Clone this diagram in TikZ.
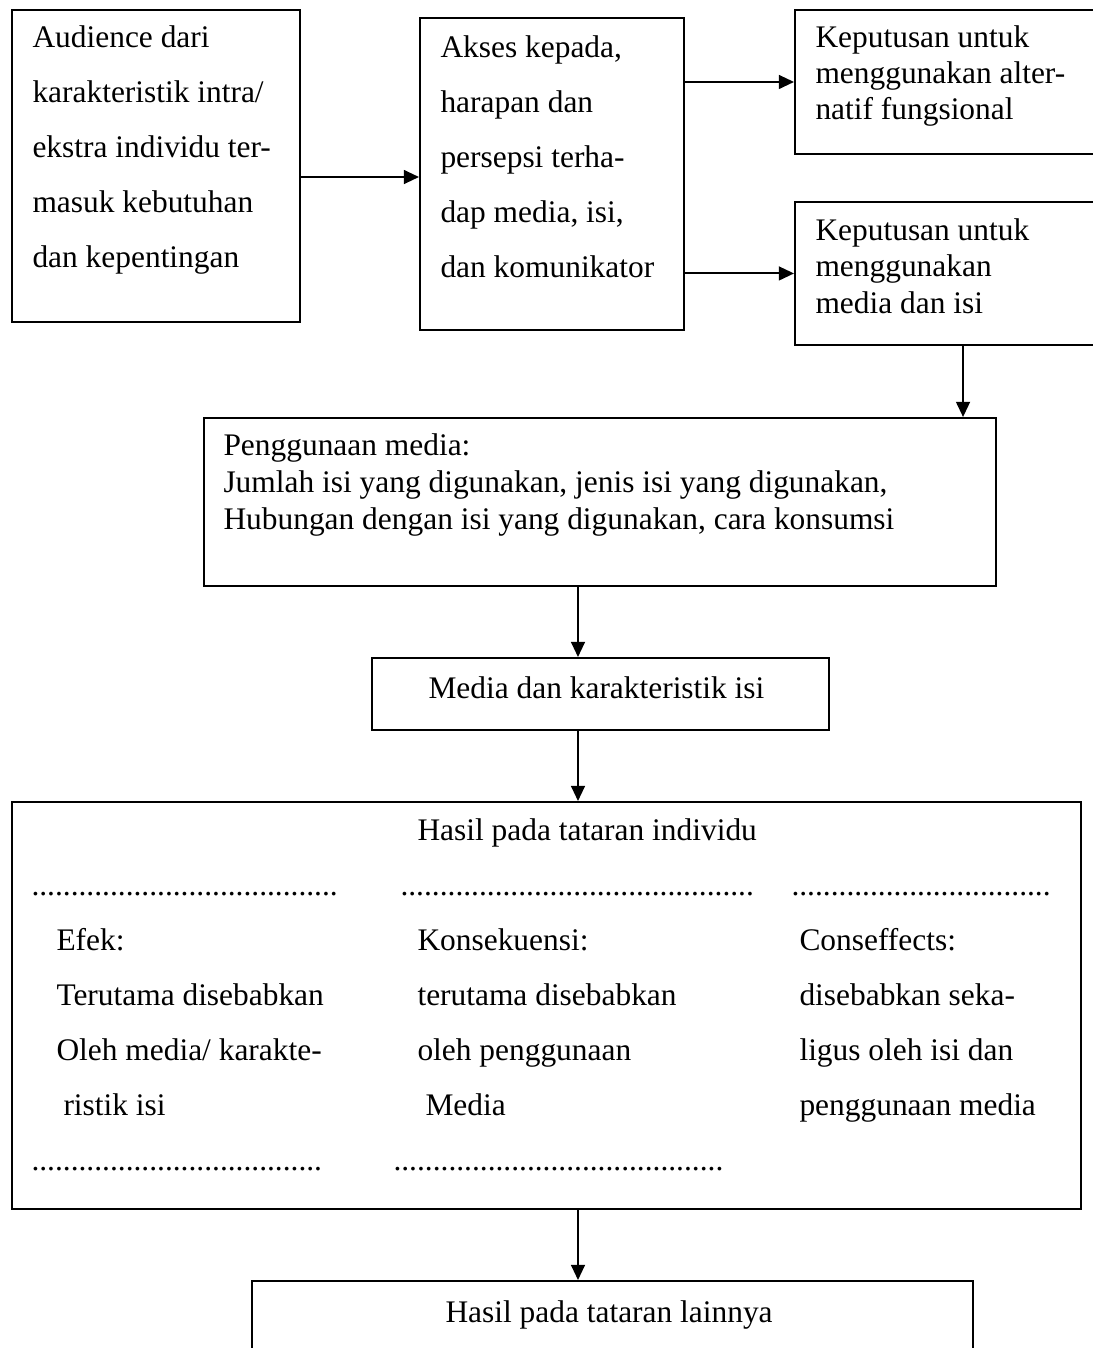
\documentclass[tikz,border=0pt]{standalone}
\usepackage{fontspec}
\setmainfont{Liberation Serif}
\usetikzlibrary{arrows.meta}
\newcommand\mydots[1]{\foreach \i in {1,...,#1}{.}}
\tikzset{
  box/.style={draw, line width=0.75pt, rectangle, inner sep=0pt, anchor=north west},
  txt/.style={inner sep=0pt, anchor=base west, font=\fontsize{12}{14}\selectfont},
  arr/.style={line width=0.75pt, -{Triangle[length=5.8pt,width=5.3pt]}},
}
\begin{document}
\begin{tikzpicture}[x=0.382pt, y=-0.382pt]
\path[use as bounding box] (0,0) rectangle (1093,1348);
\clip (0,0) rectangle (1093,1348);
% boxes
\node[box, minimum width=110.0pt, minimum height=119.2pt] (b1) at (11,9) {};
\node[box, minimum width=100.8pt, minimum height=119.2pt] (b2) at (419,17) {};
\node[box, minimum width=128.4pt, minimum height=55.0pt] (b3) at (794,9) {};
\node[box, minimum width=128.4pt, minimum height=54.6pt] (b4) at (794,201) {};
\node[box, minimum width=302.5pt, minimum height=64.2pt] (b5) at (203,417) {};
\node[box, minimum width=174.6pt, minimum height=27.5pt] (b6) at (371,657) {};
\node[box, minimum width=408.4pt, minimum height=155.5pt] (b7) at (11,801) {};
\node[box, minimum width=275.4pt, minimum height=53.5pt] (b8) at (251,1280) {};
% texts
\foreach \t [count=\k from 0] in {Audience dari, karakteristik intra/, ekstra individu ter-, masuk kebutuhan, dan kepentingan}
  \node[txt] (ta\k) at (32,{47+55*\k}) {\t};
\foreach \t [count=\k from 0] in {{Akses kepada,}, harapan dan, persepsi terha-, {dap media, isi,}, dan komunikator}
  \node[txt] (tb\k) at (440,{57+55*\k}) {\t};
\foreach \t [count=\k from 0] in {Keputusan untuk, menggunakan alter-, natif fungsional}
  \node[txt] (tc\k) at (815,{47+36.3*\k}) {\t};
\foreach \t [count=\k from 0] in {Keputusan untuk, menggunakan, media dan isi}
  \node[txt] (td\k) at (815,{240+36.5*\k}) {\t};
\foreach \t [count=\k from 0] in {Penggunaan media:, {Jumlah isi yang digunakan, jenis isi yang digunakan,}, {Hubungan dengan isi yang digunakan, cara konsumsi}}
  \node[txt] (te\k) at (223,{455+37*\k}) {\t};
\node[txt] (tf) at (428,698) {Media dan karakteristik isi};
\node[txt] (tg) at (417,840) {Hasil pada tataran individu};
\node[txt] (dl1) at (31,895) {\mydots{39}};
\node[txt] (dm1) at (400,895) {\mydots{45}};
\node[txt] (dr1) at (791,895) {\mydots{33}};
\foreach \t [count=\k from 0] in {Efek:, Terutama disebabkan, Oleh media/ karakte-}
  \node[txt] (th\k) at (56,{950+55*\k}) {\t};
\node[txt] (th3) at (63,1115) {ristik isi};
\foreach \t [count=\k from 0] in {Konsekuensi:, terutama disebabkan, oleh penggunaan}
  \node[txt] (ti\k) at (417,{950+55*\k}) {\t};
\node[txt] (ti3) at (425,1115) {Media};
\foreach \t [count=\k from 0] in {Conseffects:, disebabkan seka-, ligus oleh isi dan, penggunaan media}
  \node[txt] (tj\k) at (799,{950+55*\k}) {\t};
\node[txt] (dl2) at (31,1170) {\mydots{37}};
\node[txt] (dm2) at (393,1170) {\mydots{42}};
\node[txt] (tk) at (445,1322) {Hasil pada tataran lainnya};
% connectors
\coordinate (ax) at (578,0);
\coordinate (ay) at (0,177);
\draw[arr] (b1.east |- ay) -- (b2.west |- ay);
\draw[arr] (b2.east |- b3.west) -- (b3.west);
\draw[arr] (b2.east |- b4.west) -- (b4.west);
\draw[arr] (b4.south) -- (b4.south |- b5.north);
\draw[arr] (b5.south -| ax) -- (b6.north -| ax);
\draw[arr] (b6.south -| ax) -- (b7.north -| ax);
\draw[arr] (b7.south -| ax) -- (b8.north -| ax);
\end{tikzpicture}
\end{document}
